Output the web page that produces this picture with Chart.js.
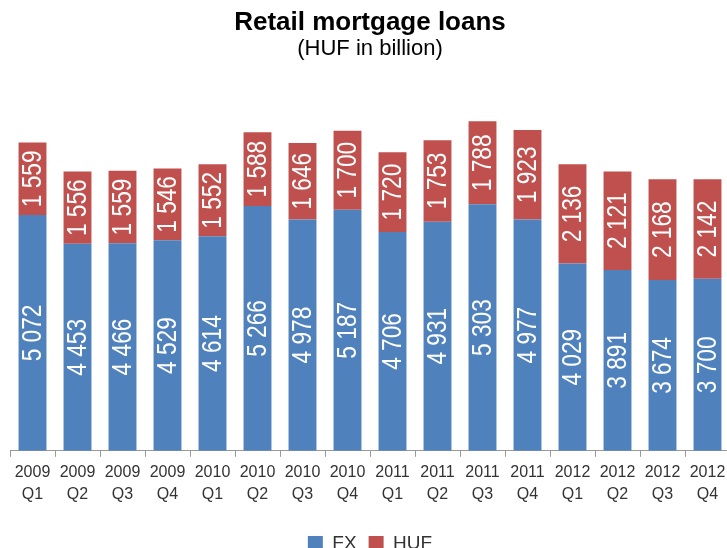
<!DOCTYPE html>
<html>
<head>
<meta charset="utf-8">
<script src="https://cdn.jsdelivr.net/npm/chart.js@4"></script>
<style>
  html, body { margin: 0; padding: 0; background: #fff; overflow: hidden; }
  #wrap { width: 735px; height: 563px; }
</style>
</head>
<body>
<div id="wrap"><canvas id="chart" width="735" height="563"></canvas></div>
<script>
// ---------- data ----------
const years    = ["2009", "2009", "2009", "2009", "2010", "2010", "2010", "2010",
                  "2011", "2011", "2011", "2011", "2012", "2012", "2012", "2012"];
const quarters = ["Q1", "Q2", "Q3", "Q4", "Q1", "Q2", "Q3", "Q4",
                  "Q1", "Q2", "Q3", "Q4", "Q1", "Q2", "Q3", "Q4"];
const fxValues  = [5072, 4453, 4466, 4529, 4614, 5266, 4978, 5187,
                   4706, 4931, 5303, 4977, 4029, 3891, 3674, 3700];
const hufValues = [1559, 1556, 1559, 1546, 1552, 1588, 1646, 1700,
                   1720, 1753, 1788, 1923, 2136, 2121, 2168, 2142];

const BLUE = "#4F81BD";
const RED  = "#C0504D";
const SANS = "'Liberation Sans', Arial, sans-serif";

const fmtNum = (n) => String(n).replace(/\B(?=(\d{3})+(?!\d))/g, " ");

// ---------- value labels inside the bars, rotated + squeezed ----------
const barLabels = {
  id: "barLabels",
  afterDatasetsDraw(chart) {
    const ctx = chart.ctx;
    ctx.save();
    ctx.fillStyle = "#fff";
    ctx.font = "27px " + SANS;
    ctx.textAlign = "center";
    ctx.textBaseline = "middle";
    chart.data.datasets.forEach((ds, i) => {
      const meta = chart.getDatasetMeta(i);
      meta.data.forEach((bar, j) => {
        const cy = (bar.y + bar.base) / 2;
        ctx.save();
        ctx.translate(bar.x + 1, cy);
        ctx.rotate(-Math.PI / 2);
        ctx.scale(0.84, 1);
        ctx.fillText(fmtNum(ds.data[j]), 0, 0);
        ctx.restore();
      });
    });
    ctx.restore();
  },
};

new Chart(document.getElementById("chart"), {
  type: "bar",
  data: {
    labels: years.map((y, i) => [y, quarters[i]]),
    datasets: [
      { label: "FX",  data: fxValues,  backgroundColor: BLUE },
      { label: "HUF", data: hufValues, backgroundColor: RED },
    ],
  },
  options: {
    responsive: false,
    devicePixelRatio: 1,
    animation: false,
    layout: { padding: { left: 10, right: 5, top: 0, bottom: 0 } },
    datasets: { bar: { categoryPercentage: 1, barPercentage: 0.62 } },
    plugins: {
      title: {
        display: true,
        text: "Retail mortgage loans",
        color: "#000",
        font: { family: SANS, size: 26, weight: "bold", lineHeight: 1 },
        padding: { top: 10, bottom: 2 },
      },
      subtitle: {
        display: true,
        text: "(HUF in billion)",
        color: "#000",
        font: { family: SANS, size: 22, lineHeight: 1 },
        padding: { top: 0, bottom: 19 },
      },
      legend: {
        position: "bottom",
        labels: {
          color: "#333",
          font: { family: SANS, size: 19 },
          boxWidth: 15,
          boxHeight: 15,
          padding: 12,
        },
      },
      tooltip: { enabled: false },
    },
    scales: {
      x: {
        stacked: true,
        grid: { display: true, drawOnChartArea: false, drawTicks: true, tickLength: 6, color: "#999", offset: true },
        border: { color: "#999" },
        ticks: {
          color: "#333",
          padding: 5,
          maxRotation: 0,
          autoSkip: false,
          font: { family: SANS, size: 16, lineHeight: 1.35 },
        },
        afterFit(scale) { scale.height += 12; },
      },
      y: {
        stacked: true,
        display: false,
        min: 0,
        max: 8000,
      },
    },
  },
  plugins: [barLabels],
});
</script>
</body>
</html>
